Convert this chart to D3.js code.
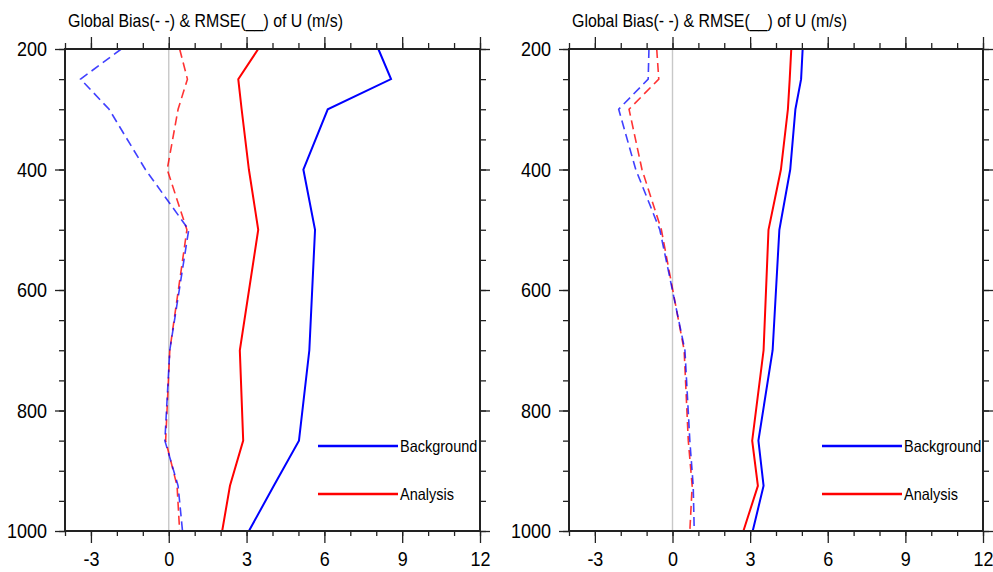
<!DOCTYPE html>
<html>
<head>
<meta charset="utf-8">
<script src="https://cdn.jsdelivr.net/npm/d3@7"></script>
<style>
  body { margin: 0; background: #fff; }
  svg { display: block; font-family: "Liberation Sans", Arial, Helvetica, sans-serif; }
</style>
</head>
<body>
<svg id="chart" width="993" height="572"></svg>
<script>
// pressure levels (hPa)
var levels = [200, 250, 300, 400, 500, 700, 850, 925, 1000];

// left panel
var leftBgRmse = [8.08, 8.57, 6.13, 5.19, 5.64, 5.42, 5.02, 4.05, 3.09];
var leftAnRmse = [3.45, 2.68, 2.81, 3.09, 3.45, 2.74, 2.87, 2.36, 2.06];
var leftBgBias = [-1.83, -3.40, -2.30, -0.90, 0.77, 0.04, -0.15, 0.36, 0.53];
var leftAnBias = [0.42, 0.72, 0.36, -0.06, 0.70, 0.04, -0.12, 0.32, 0.42];

// right panel
var rightBgRmse = [5.03, 4.97, 4.75, 4.55, 4.13, 3.87, 3.32, 3.52, 3.10];
var rightAnRmse = [4.59, 4.53, 4.46, 4.19, 3.71, 3.52, 3.08, 3.30, 2.74];
var rightBgBias = [-0.91, -0.94, -2.08, -1.42, -0.49, 0.48, 0.67, 0.80, 0.84];
var rightAnBias = [-0.61, -0.53, -1.68, -1.18, -0.43, 0.45, 0.61, 0.76, 0.67];

var xTicks = [-3, 0, 3, 6, 9, 12];
var yTicks = [200, 400, 600, 800, 1000];
var titleText = "Global Bias(- -) & RMSE(__) of U (m/s)";
var legendNames = ["Background", "Analysis"];
var colors = {bg: "#0000ff", an: "#ff0000"};

var svg = d3.select("#chart");

var panels = [
  {x0: 65, x1: 480, bg: leftBgRmse, an: leftAnRmse, bgB: leftBgBias, anB: leftAnBias},
  {x0: 569, x1: 983, bg: rightBgRmse, an: rightAnRmse, bgB: rightBgBias, anB: rightAnBias}
];
var plotTop = 49, plotBottom = 531;

// plain hyphen for negatives, like the original
function fmt(d){ return String(d); }

function drawPanel(p){
  var g = svg.append("g");
  var x = d3.scaleLinear().domain([-4, 12]).range([p.x0, p.x1]);
  var y = d3.scaleLinear().domain([200, 1000]).range([plotTop, plotBottom]);

  var minorX = d3.range(-4, 13, 1);
  var minorY = d3.range(200, 1001, 50);

  function styleAxis(a){
    a.select(".domain").remove();
    a.selectAll("line").attr("stroke", "#222").attr("stroke-width", 1.3);
  }

  // minor ticks
  g.append("g").attr("transform", "translate(0," + plotBottom + ")")
    .call(d3.axisBottom(x).tickValues(minorX).tickSize(5).tickFormat(""))
    .call(styleAxis);
  g.append("g").attr("transform", "translate(0," + plotTop + ")")
    .call(d3.axisTop(x).tickValues(minorX).tickSize(6).tickFormat(""))
    .call(styleAxis);
  g.append("g").attr("transform", "translate(" + p.x0 + ",0)")
    .call(d3.axisLeft(y).tickValues(minorY).tickSize(6).tickFormat(""))
    .call(styleAxis);
  g.append("g").attr("transform", "translate(" + p.x1 + ",0)")
    .call(d3.axisRight(y).tickValues(minorY).tickSize(6).tickFormat(""))
    .call(styleAxis);

  // major ticks with labels (glyphs stretched a bit vertically, as in the original)
  var xb = g.append("g").attr("transform", "translate(0," + plotBottom + ")")
    .call(d3.axisBottom(x).tickValues(xTicks).tickSize(12).tickPadding(6).tickFormat(fmt))
    .call(styleAxis);
  xb.selectAll("text").attr("font-size", 18).attr("fill", "#000")
    .attr("font-family", "Liberation Sans, Arial, sans-serif")
    .attr("transform", "scale(1,1.15)");
  g.append("g").attr("transform", "translate(0," + plotTop + ")")
    .call(d3.axisTop(x).tickValues(xTicks).tickSize(12).tickFormat(""))
    .call(styleAxis);
  var yl = g.append("g").attr("transform", "translate(" + p.x0 + ",0)")
    .call(d3.axisLeft(y).tickValues(yTicks).tickSize(10).tickPadding(8).tickFormat(fmt))
    .call(styleAxis);
  yl.selectAll("text").attr("font-size", 18).attr("fill", "#000")
    .attr("font-family", "Liberation Sans, Arial, sans-serif")
    .attr("transform", "scale(1,1.15)");
  g.append("g").attr("transform", "translate(" + p.x1 + ",0)")
    .call(d3.axisRight(y).tickValues(yTicks).tickSize(10).tickFormat(""))
    .call(styleAxis);

  // zero reference line
  g.append("line")
    .attr("x1", x(0)).attr("x2", x(0))
    .attr("y1", plotTop).attr("y2", plotBottom)
    .attr("stroke", "#c8c8c8").attr("stroke-width", 1.4);

  var line = d3.line()
    .x(function(d){ return x(d.v); })
    .y(function(d){ return y(d.p); });

  function series(vals){
    return vals.map(function(v, i){ return {p: levels[i], v: v}; });
  }

  // bias (dashed)
  g.append("path").datum(series(p.anB))
    .attr("d", line).attr("fill", "none")
    .attr("stroke", colors.an).attr("stroke-opacity", 0.8)
    .attr("stroke-width", 1.6).attr("stroke-dasharray", "9,5");
  g.append("path").datum(series(p.bgB))
    .attr("d", line).attr("fill", "none")
    .attr("stroke", colors.bg).attr("stroke-opacity", 0.75)
    .attr("stroke-width", 1.6).attr("stroke-dasharray", "9,5");

  // rmse (solid)
  g.append("path").datum(series(p.an))
    .attr("d", line).attr("fill", "none")
    .attr("stroke", colors.an).attr("stroke-width", 2);
  g.append("path").datum(series(p.bg))
    .attr("d", line).attr("fill", "none")
    .attr("stroke", colors.bg).attr("stroke-width", 2);

  // frame
  g.append("rect")
    .attr("x", p.x0).attr("y", plotTop)
    .attr("width", p.x1 - p.x0).attr("height", plotBottom - plotTop)
    .attr("fill", "none").attr("stroke", "#222").attr("stroke-width", 2);

  // title
  g.append("text")
    .attr("transform", "translate(" + (p.x0 + 3) + ",27) scale(1,1.18)")
    .attr("font-size", 16).attr("fill", "#000")
    .attr("textLength", 275).attr("lengthAdjust", "spacingAndGlyphs")
    .text(titleText);

  // legend
  var lx = p.x0 + 253;
  [["bg", 446], ["an", 494]].forEach(function(item, i){
    g.append("line")
      .attr("x1", lx).attr("x2", lx + 80)
      .attr("y1", item[1]).attr("y2", item[1])
      .attr("stroke", colors[item[0]]).attr("stroke-width", 2.5);
    g.append("text")
      .attr("transform", "translate(" + (lx + 82) + "," + (item[1] + 5.5) + ") scale(1,1.15)")
      .attr("font-size", 14.5).attr("fill", "#000")
      .text(legendNames[i]);
  });
}

panels.forEach(drawPanel);
</script>
</body>
</html>
